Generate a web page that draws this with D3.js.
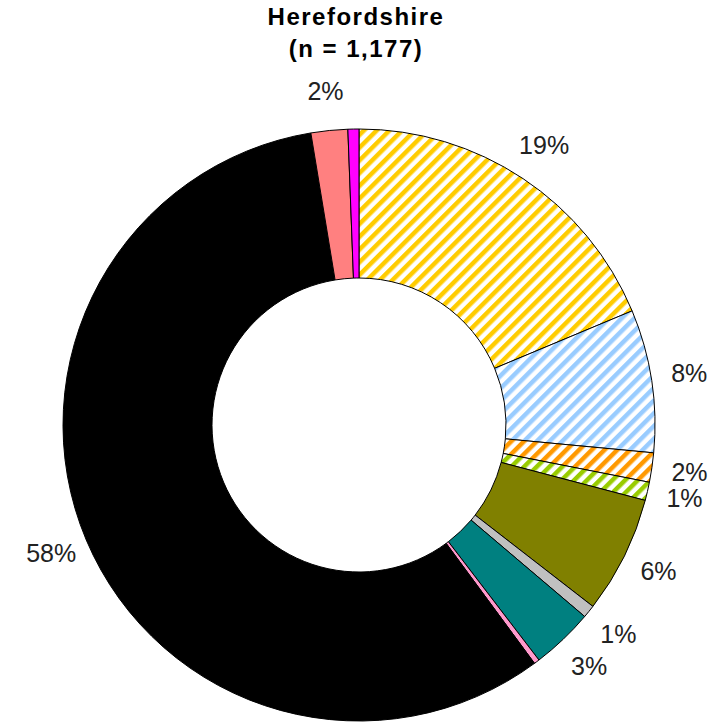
<!DOCTYPE html>
<html>
<head>
<meta charset="utf-8">
<script src="https://cdn.jsdelivr.net/npm/d3@7"></script>
<style>
  body { margin: 0; background: #fff; }
  text { font-family: Arial, "Liberation Sans", sans-serif; }
</style>
</head>
<body>
<div id="chart"></div>
<script>
// slice data, clockwise from 12 o'clock (percent)
var categories = ["a", "b", "c", "d", "e", "f", "g", "h", "i", "j", "k"];
var values = [18.7, 7.8, 1.6, 1.0, 6.4, 0.7, 3.4, 0.3, 57.5, 2.0, 0.6];
// labels as printed on the chart (two thin slices carry none)
var labels = ["19%", "8%", "2%", "1%", "6%", "1%", "3%", "", "58%", "2%", ""];
var colors = ["#FFCC00", "#99CCFF", "#FF9900", "#99CC00", "#808000", "#C0C0C0",
              "#008080", "#FF99CC", "#000000", "#FF8080", "#FF00FF"];
var hatched = [true, true, true, true, false, false, false, false, false, false, false];
var titleLines = ["Herefordshire", "(n = 1,177)"];

var width = 715, height = 726;
var cx = 359, cy = 425;
var outerR = 296, innerR = 147, labelR = 334;

var svg = d3.select("#chart").append("svg")
    .attr("width", width)
    .attr("height", height);

// diagonal stripe patterns for the hatched slices
var defs = svg.append("defs");
categories.forEach(function(c, i) {
    if (!hatched[i]) return;
    var p = defs.append("pattern")
        .attr("id", "hatch-" + c)
        .attr("patternUnits", "userSpaceOnUse")
        .attr("width", 9)
        .attr("height", 9)
        .attr("patternTransform", "rotate(45)");
    p.append("rect").attr("width", 9).attr("height", 9).attr("fill", "#fff");
    p.append("rect").attr("width", 4.5).attr("height", 9).attr("fill", colors[i]);
});

// title
svg.append("g").selectAll("text")
    .data(titleLines)
  .enter().append("text")
    .attr("x", 356)
    .attr("y", function(d, i) { return 25 + i * 32; })
    .attr("text-anchor", "middle")
    .attr("font-size", 24)
    .attr("font-weight", "bold")
    .attr("letter-spacing", 1.5)
    .attr("fill", "#000")
    .text(function(d) { return d; });

var pie = d3.pie().sort(null).value(function(d) { return d; });
var arcs = pie(values);

var arc = d3.arc().innerRadius(innerR).outerRadius(outerR);
var labelArc = d3.arc().innerRadius(labelR).outerRadius(labelR);

var g = svg.append("g")
    .attr("transform", "translate(" + cx + "," + cy + ")");

g.selectAll("path")
    .data(arcs)
  .enter().append("path")
    .attr("d", arc)
    .attr("fill", function(d, i) {
        return hatched[i] ? "url(#hatch-" + categories[i] + ")" : colors[i];
    })
    .attr("stroke", "#000")
    .attr("stroke-width", 1);

// percentage labels
g.selectAll("text.lbl")
    .data(arcs.filter(function(d) { return labels[d.index] !== ""; }))
  .enter().append("text")
    .attr("class", "lbl")
    .attr("transform", function(d) { return "translate(" + labelArc.centroid(d) + ")"; })
    .attr("text-anchor", "middle")
    .attr("dy", "0.3em")
    .attr("font-size", 25)
    .attr("fill", "#222")
    .text(function(d) { return labels[d.index]; });
</script>
</body>
</html>
